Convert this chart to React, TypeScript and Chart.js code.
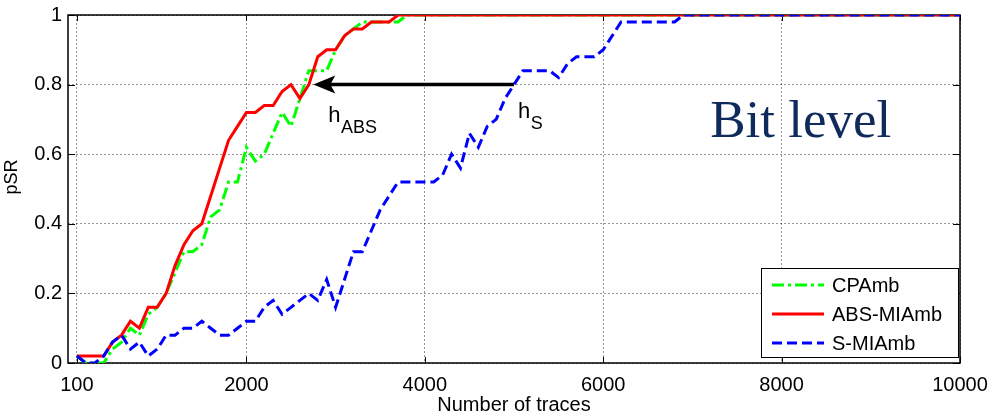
import React, { useEffect, useRef } from "react";
import { Chart, registerables } from "chart.js";

Chart.register(...registerables);

// ---- data ----
const traces = [
  100, 200, 300, 400, 500, 600, 700, 800, 900, 1000,
  1100, 1200, 1300, 1400, 1500, 1600, 1700, 1800, 1900, 2000,
  2100, 2200, 2300, 2400, 2500, 2600, 2700, 2800, 2900, 3000,
  3100, 3200, 3300, 3400, 3500, 3600, 3700, 3800, 3900, 4000,
  4100, 4200, 4300, 4400, 4500, 4600, 4700, 4800, 4900, 5000,
  5100, 5200, 5300, 5400, 5500, 5600, 5700, 5800, 5900, 6000,
  6100, 6200, 6300, 6400, 6500, 6600, 6700, 6800, 6900, 7000,
  10000,
];

const cpAmb = [
  0.02, 0, 0, 0, 0.04, 0.06, 0.1, 0.08, 0.14, 0.16,
  0.2, 0.26, 0.32, 0.32, 0.34, 0.42, 0.44, 0.52, 0.52, 0.62,
  0.58, 0.6, 0.66, 0.72, 0.68, 0.76, 0.84, 0.84, 0.84, 0.9,
  0.94, 0.96, 0.98, 0.98, 0.98, 0.98, 0.98, 1, 1, 1,
  1, 1, 1, 1, 1, 1, 1, 1, 1, 1,
  1, 1, 1, 1, 1, 1, 1, 1, 1, 1,
  1, 1, 1, 1, 1, 1, 1, 1, 1, 1,
  1,
];

const absMiAmb = [
  0.02, 0.02, 0.02, 0.02, 0.06, 0.08, 0.12, 0.1, 0.16, 0.16,
  0.2, 0.28, 0.34, 0.38, 0.4, 0.48, 0.56, 0.64, 0.68, 0.72,
  0.72, 0.74, 0.74, 0.78, 0.8, 0.76, 0.8, 0.88, 0.9, 0.9,
  0.94, 0.96, 0.96, 0.98, 0.98, 0.98, 1, 1, 1, 1,
  1, 1, 1, 1, 1, 1, 1, 1, 1, 1,
  1, 1, 1, 1, 1, 1, 1, 1, 1, 1,
  1, 1, 1, 1, 1, 1, 1, 1, 1, 1,
  1,
];

const sMiAmb = [
  0.02, 0, 0, 0.02, 0.06, 0.08, 0.04, 0.06, 0.02, 0.04,
  0.08, 0.08, 0.1, 0.1, 0.12, 0.1, 0.08, 0.08, 0.1, 0.12,
  0.12, 0.16, 0.18, 0.14, 0.16, 0.18, 0.2, 0.18, 0.24, 0.16,
  0.24, 0.32, 0.32, 0.38, 0.44, 0.48, 0.52, 0.52, 0.52, 0.52,
  0.52, 0.54, 0.6, 0.56, 0.66, 0.62, 0.68, 0.7, 0.76, 0.8,
  0.84, 0.84, 0.84, 0.84, 0.82, 0.86, 0.88, 0.88, 0.88, 0.9,
  0.94, 0.98, 0.98, 0.98, 0.98, 0.98, 0.98, 0.98, 1, 1,
  1,
];

const seriesNames = ["CPAmb", "ABS-MIAmb", "S-MIAmb"];
const xTicks = [100, 2000, 4000, 6000, 8000, 10000];
const yTicks = [0, 0.2, 0.4, 0.6, 0.8, 1];
const xTitle = "Number of traces";
const yTitle = "pSR";
const panelLabel = "Bit level";

// arrow from where S-MIAmb reaches 0.8 back to where ABS-MIAmb does
const arrowFrom = { x: 5000, y: 0.8 };
const arrowTo = { x: 2750, y: 0.8 };

const FONT = "'Liberation Sans', Arial, Helvetica, sans-serif";
const SERIF = "'Liberation Serif', 'DejaVu Serif', serif";

const toXY = (ys: number[]) => traces.map((t, i) => ({ x: t, y: ys[i] }));

const overlayPlugin = {
  id: "overlay",
  beforeDatasetsDraw(chart: any) {
    const { ctx, chartArea: a } = chart;
    const xs = chart.scales.x;
    const ys = chart.scales.y;
    ctx.save();
    ctx.strokeStyle = "#000";
    ctx.lineWidth = 1;
    ctx.setLineDash([]);
    ctx.beginPath();
    xTicks.forEach((v) => {
      const px = Math.round(xs.getPixelForValue(v)) + 0.5;
      ctx.moveTo(px, a.bottom);
      ctx.lineTo(px, a.bottom - 6);
      ctx.moveTo(px, a.top);
      ctx.lineTo(px, a.top + 6);
    });
    yTicks.forEach((v) => {
      const py = Math.round(ys.getPixelForValue(v)) + 0.5;
      ctx.moveTo(a.left, py);
      ctx.lineTo(a.left + 7, py);
      ctx.moveTo(a.right, py);
      ctx.lineTo(a.right - 7, py);
    });
    ctx.stroke();
    ctx.lineWidth = 1.5;
    ctx.strokeRect(a.left, a.top, a.right - a.left, a.bottom - a.top);

    // y-axis title
    ctx.save();
    ctx.translate(12, 177);
    ctx.rotate(-Math.PI / 2);
    ctx.font = `18px ${FONT}`;
    ctx.fillStyle = "#000";
    ctx.textAlign = "center";
    ctx.textBaseline = "middle";
    ctx.fillText(yTitle, 0, 0);
    ctx.restore();

    ctx.restore();
  },
  afterDatasetsDraw(chart: any) {
    const { ctx, chartArea: a } = chart;
    const xs = chart.scales.x;
    const ys = chart.scales.y;
    ctx.save();

    // arrow
    const x0 = xs.getPixelForValue(arrowFrom.x);
    const x1 = xs.getPixelForValue(arrowTo.x);
    const y0 = ys.getPixelForValue(arrowFrom.y);
    ctx.strokeStyle = "#000";
    ctx.fillStyle = "#000";
    ctx.lineWidth = 3.5;
    ctx.setLineDash([]);
    ctx.beginPath();
    ctx.moveTo(x0, y0);
    ctx.lineTo(x1 + 16, y0);
    ctx.stroke();
    ctx.beginPath();
    ctx.moveTo(x1, y0);
    ctx.lineTo(x1 + 22, y0 - 9);
    ctx.lineTo(x1 + 17, y0);
    ctx.lineTo(x1 + 22, y0 + 9);
    ctx.closePath();
    ctx.fill();

    // h labels
    ctx.textBaseline = "alphabetic";
    ctx.textAlign = "left";
    const drawSub = (px: number, py: number, main: string, sub: string) => {
      ctx.font = `22px ${FONT}`;
      ctx.fillStyle = "#000";
      ctx.fillText(main, px, py);
      const w = ctx.measureText(main).width;
      ctx.font = `18px ${FONT}`;
      ctx.fillText(sub, px + w + 0.5, py + 11);
    };
    drawSub(x1 + 15, y0 + 37, "h", "ABS");
    drawSub(x0 + 4, y0 + 33, "h", "S");

    // panel label
    ctx.font = `53px ${SERIF}`;
    ctx.fillStyle = "#0f2b5b";
    ctx.fillText(panelLabel, xs.getPixelForValue(7200), ys.getPixelForValue(0.65));

    // legend
    const lw = 197;
    const lh = 89;
    const lx = a.right - lw - 2;
    const ly = a.bottom - lh - 6;
    ctx.fillStyle = "#fff";
    ctx.fillRect(lx, ly, lw, lh);
    ctx.strokeStyle = "#000";
    ctx.lineWidth = 1;
    ctx.strokeRect(lx + 0.5, ly + 0.5, lw, lh);
    ctx.font = `20px ${FONT}`;
    ctx.textBaseline = "middle";
    chart.data.datasets.forEach((ds: any, i: number) => {
      const cy = ly + 17 + i * 29;
      ctx.strokeStyle = ds.borderColor;
      ctx.lineWidth = ds.borderWidth;
      ctx.setLineDash(ds.borderDash || []);
      ctx.beginPath();
      ctx.moveTo(lx + 11, cy);
      ctx.lineTo(lx + 63, cy);
      ctx.stroke();
      ctx.setLineDash([]);
      ctx.fillStyle = "#000";
      ctx.fillText(ds.label, lx + 71, cy + 1);
    });
    ctx.restore();
  },
};

export default function App() {
  const canvasRef = useRef<HTMLCanvasElement | null>(null);

  useEffect(() => {
    const canvas = canvasRef.current;
    if (!canvas) return;
    const gridColor = "rgba(0,0,0,0.42)";
    const chart = new Chart(canvas, {
      type: "line",
      data: {
        datasets: [
          {
            label: seriesNames[0],
            data: toXY(cpAmb),
            borderColor: "#00ff00",
            borderWidth: 3,
            borderDash: [12, 4, 3, 4],
            order: 2,
          },
          {
            label: seriesNames[1],
            data: toXY(absMiAmb),
            borderColor: "#ff0000",
            borderWidth: 3,
            order: 1,
          },
          {
            label: seriesNames[2],
            data: toXY(sMiAmb),
            borderColor: "#0000ff",
            borderWidth: 3,
            borderDash: [10, 5],
            order: 0,
          },
        ] as any,
      },
      options: {
        animation: false,
        responsive: false,
        maintainAspectRatio: false,
        layout: { padding: { left: 0, right: 32, top: 15, bottom: 0 } },
        elements: {
          point: { radius: 0, hoverRadius: 0 },
          line: { tension: 0, fill: false, borderCapStyle: "butt" },
        },
        plugins: {
          legend: { display: false },
          tooltip: { enabled: false },
        },
        scales: {
          x: {
            type: "linear",
            min: 0,
            max: 10000,
            afterBuildTicks: (s: any) => {
              s.ticks = xTicks.map((v) => ({ value: v }));
            },
            afterFit: (s: any) => {
              s.height = 54;
              s.paddingLeft = 0;
              s.paddingRight = 0;
            },
            grid: { color: gridColor, lineWidth: 1, drawTicks: false },
            border: { display: false, dash: [2, 2] },
            ticks: {
              autoSkip: false,
              maxRotation: 0,
              padding: 10,
              color: "#000",
              font: { family: FONT, size: 20 },
              callback: (v: any) => String(v),
            },
            title: {
              display: true,
              text: xTitle,
              color: "#000",
              font: { family: FONT, size: 20 },
              padding: { top: 0, bottom: 0 },
            },
          },
          y: {
            type: "linear",
            min: 0,
            max: 1,
            afterBuildTicks: (s: any) => {
              s.ticks = yTicks.map((v) => ({ value: v }));
            },
            afterFit: (s: any) => {
              s.width = 68;
              s.paddingTop = 0;
              s.paddingBottom = 0;
            },
            grid: { color: gridColor, lineWidth: 1, drawTicks: false },
            border: { display: false, dash: [2, 2] },
            ticks: {
              padding: 6,
              color: "#000",
              font: { family: FONT, size: 20 },
              callback: (v: any) => String(v),
            },
            title: { display: false },
          },
        },
      } as any,
      plugins: [overlayPlugin as any],
    });
    return () => chart.destroy();
  }, []);

  return (
    <div style={{ position: "fixed", left: 0, top: 0, width: 992, height: 417, background: "#fff" }}>
      <canvas ref={canvasRef} width={992} height={417} />
    </div>
  );
}
